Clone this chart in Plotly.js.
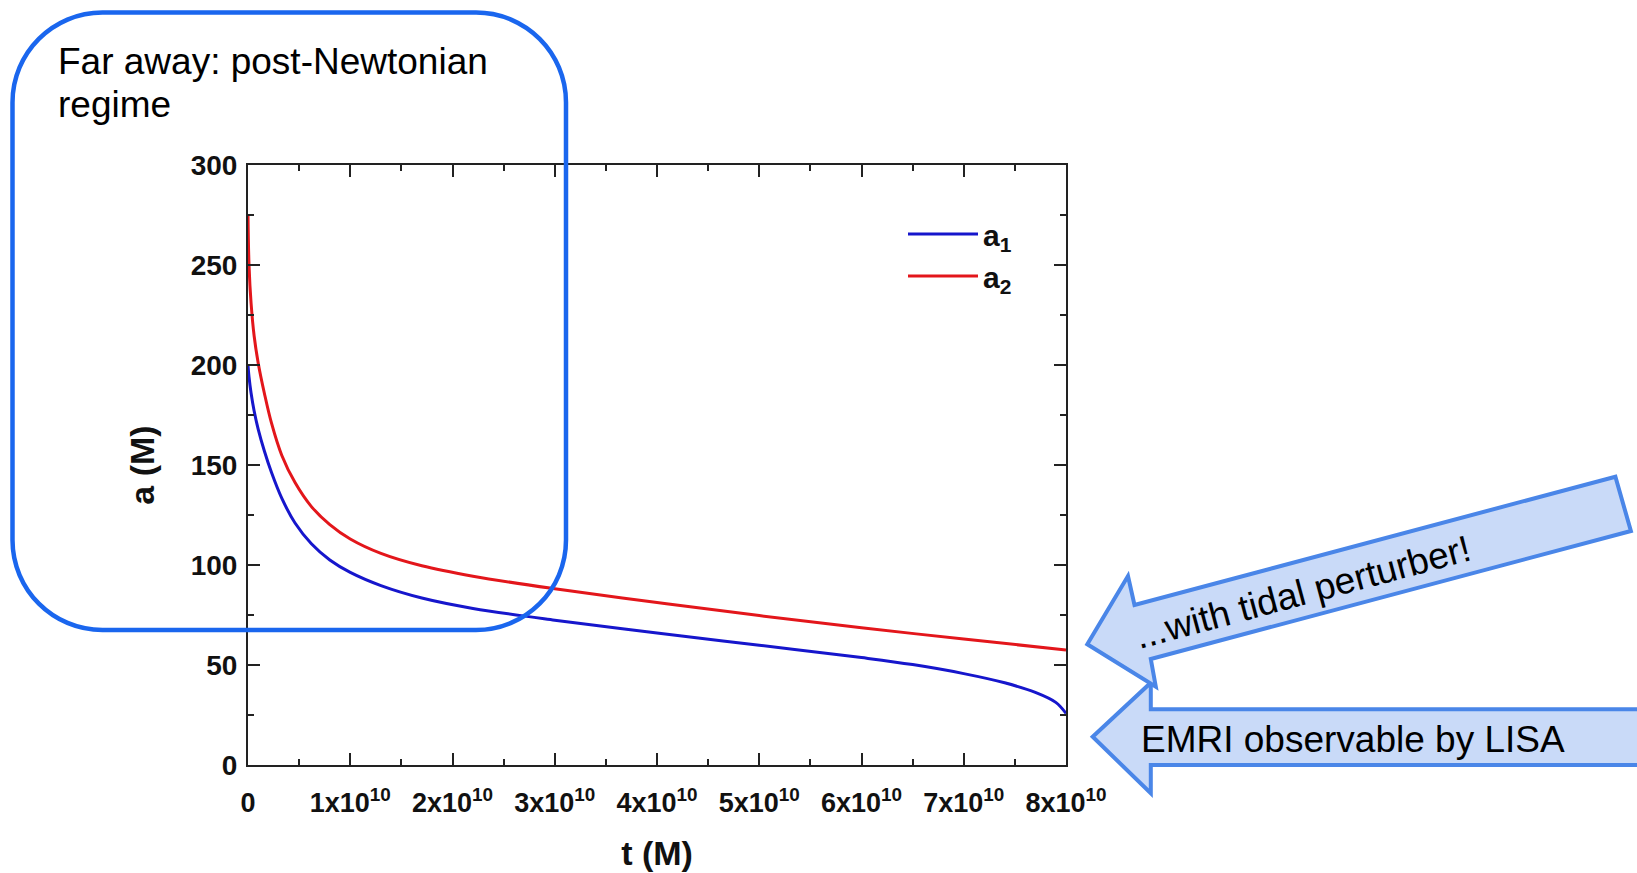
<!DOCTYPE html>
<html>
<head>
<meta charset="utf-8">
<script src="https://cdn.plot.ly/plotly-3.0.1.min.js"></script>
<style>
  html, body { margin: 0; padding: 0; background: #ffffff; }
  #chart { width: 1637px; height: 873px; }
</style>
</head>
<body>
<div id="chart"></div>
<script>
// ---- data (t in units of M, a in units of M) ----
const t_a1 = [0, 0.01e10, 0.03e10, 0.06e10, 0.1e10, 0.16e10, 0.23e10, 0.33e10, 0.46e10, 0.62e10, 0.8e10, 1.0e10, 1.3e10, 1.7e10, 2.2e10, 3.0e10, 4.0e10, 5.0e10, 6.0e10, 6.5e10, 7.0e10, 7.4e10, 7.7e10, 7.9e10, 8.0e10];
const a1   = [200, 194, 186, 177, 167.8, 157.0, 146.2, 133.4, 121.0, 110.6, 102.5, 96.3, 89.7, 83.5, 78.3, 72.4, 66.0, 59.9, 53.7, 50.2, 45.7, 41.1, 36.3, 31.3, 25.8];
const t_a2 = [0, 0.01e10, 0.03e10, 0.06e10, 0.1e10, 0.16e10, 0.23e10, 0.33e10, 0.46e10, 0.62e10, 0.8e10, 1.0e10, 1.3e10, 1.7e10, 2.2e10, 3.0e10, 4.0e10, 5.0e10, 6.0e10, 7.0e10, 8.0e10];
const a2   = [275, 250, 231, 214.5, 200.9, 185.9, 170.9, 154.9, 141.2, 129.2, 120.2, 113.0, 105.8, 99.6, 94.4, 88.1, 81.2, 74.7, 68.6, 63.0, 57.5];

const xTickVals = [0, 1e10, 2e10, 3e10, 4e10, 5e10, 6e10, 7e10, 8e10];
const xTickText = ['0', '1x10<sup>10</sup>', '2x10<sup>10</sup>', '3x10<sup>10</sup>', '4x10<sup>10</sup>',
                   '5x10<sup>10</sup>', '6x10<sup>10</sup>', '7x10<sup>10</sup>', '8x10<sup>10</sup>'];
const yTickVals = [0, 50, 100, 150, 200, 250, 300];
const seriesNames = ['<b>a<sub>1</sub></b>', '<b>a<sub>2</sub></b>'];

const noteFar = ['Far away: post-Newtonian', 'regime'];
const noteTidal = '...with tidal perturber!';
const noteLisa = 'EMRI observable by LISA';

// ---- layout geometry (pixels) ----
const W = 1637, H = 873;
const M = { l: 248, r: 571, t: 165, b: 108 };
const PW = W - M.l - M.r, PH = H - M.t - M.b;
const px = x => (x - M.l) / PW;
const py = y => (H - M.b - y) / PH;
const pathFrom = pts => 'M ' + pts.map(p => px(p[0]).toFixed(5) + ',' + py(p[1]).toFixed(5)).join(' L ') + ' Z';

function roundedRect(x1, y1, x2, y2, r) {
  const k = 0.5523 * r;
  const P = (x, y) => px(x).toFixed(5) + ',' + py(y).toFixed(5);
  return 'M ' + P(x1 + r, y1) +
    ' L ' + P(x2 - r, y1) +
    ' C ' + P(x2 - r + k, y1) + ' ' + P(x2, y1 + r - k) + ' ' + P(x2, y1 + r) +
    ' L ' + P(x2, y2 - r) +
    ' C ' + P(x2, y2 - r + k) + ' ' + P(x2 - r + k, y2) + ' ' + P(x2 - r, y2) +
    ' L ' + P(x1 + r, y2) +
    ' C ' + P(x1 + r - k, y2) + ' ' + P(x1, y2 - r + k) + ' ' + P(x1, y2 - r) +
    ' L ' + P(x1, y1 + r) +
    ' C ' + P(x1, y1 + r - k) + ' ' + P(x1 + r - k, y1) + ' ' + P(x1 + r, y1) + ' Z';
}

const arrowTop = [[1087.3, 644.3], [1128, 576], [1134.5, 605], [1615.4, 476.7], [1630.9, 531], [1150.8, 659], [1155.8, 686.7]];
const arrowBottom = [[1092.7, 736.7], [1150.8, 682.7], [1150.8, 709.3], [1650, 709.3], [1650, 765], [1150.8, 765], [1150.8, 793.3]];

const FONT = 'Liberation Sans, Arial, Helvetica, sans-serif';

const traces = [
  { x: t_a1, y: a1, name: seriesNames[0], type: 'scatter', mode: 'lines',
    line: { color: '#1616cc', width: 3, shape: 'spline', smoothing: 1 } },
  { x: t_a2, y: a2, name: seriesNames[1], type: 'scatter', mode: 'lines',
    line: { color: '#e3161b', width: 3, shape: 'spline', smoothing: 1 } }
];

const axisCommon = {
  showgrid: false, zeroline: false, showline: true, linecolor: '#222', linewidth: 2,
  mirror: 'ticks', ticks: 'inside', ticklen: 12, tickwidth: 2, tickcolor: '#222'
};

const layout = {
  width: W, height: H,
  margin: M,
  paper_bgcolor: '#ffffff', plot_bgcolor: '#ffffff',
  showlegend: true,
  legend: {
    x: px(903), y: py(208), xanchor: 'left', yanchor: 'top',
    bgcolor: 'rgba(0,0,0,0)', borderwidth: 0,
    font: { family: FONT, size: 30, color: '#111' },
    itemwidth: 70, tracegroupgap: 0
  },
  xaxis: Object.assign({}, axisCommon, {
    range: [0, 8e10], tickmode: 'array', tickvals: xTickVals, ticktext: xTickText,
    tickfont: { family: FONT, size: 27, color: '#111', weight: 'bold' },
    ticklabelstandoff: 13,
    minor: { dtick: 0.5e10, ticks: 'inside', ticklen: 6, tickwidth: 2, tickcolor: '#222' },
    title: { text: 't (M)', font: { family: FONT, size: 34, color: '#111', weight: 'bold' }, standoff: 24 }
  }),
  yaxis: Object.assign({}, axisCommon, {
    range: [0, 300], tickmode: 'array', tickvals: yTickVals,
    tickfont: { family: FONT, size: 28, color: '#111', weight: 'bold' },
    ticklabelstandoff: 3,
    minor: { dtick: 25, ticks: 'inside', ticklen: 6, tickwidth: 2, tickcolor: '#222' },
    title: { text: 'a (M)', font: { family: FONT, size: 34, color: '#111', weight: 'bold' }, standoff: 26 }
  }),
  shapes: [
    { type: 'path', xref: 'paper', yref: 'paper', path: pathFrom(arrowBottom),
      fillcolor: '#c9daf8', line: { color: '#4a86e8', width: 4 }, layer: 'above' },
    { type: 'path', xref: 'paper', yref: 'paper', path: pathFrom(arrowTop),
      fillcolor: '#c9daf8', line: { color: '#4a86e8', width: 4 }, layer: 'above' },
    { type: 'path', xref: 'paper', yref: 'paper', path: roundedRect(12.5, 12.5, 566, 630, 90),
      fillcolor: 'rgba(0,0,0,0)', line: { color: '#1a66ee', width: 4.5 }, layer: 'above' }
  ],
  annotations: [
    { text: noteFar[0], xref: 'paper', yref: 'paper', x: px(56), y: py(61), xanchor: 'left', yanchor: 'middle',
      showarrow: false, font: { family: FONT, size: 37, color: '#000' } },
    { text: noteFar[1], xref: 'paper', yref: 'paper', x: px(56), y: py(104.5), xanchor: 'left', yanchor: 'middle',
      showarrow: false, font: { family: FONT, size: 37, color: '#000' } },
    { text: noteTidal, xref: 'paper', yref: 'paper', x: px(1302), y: py(592), xanchor: 'center', yanchor: 'middle',
      textangle: -15, showarrow: false, font: { family: FONT, size: 37, color: '#000' } },
    { text: noteLisa, xref: 'paper', yref: 'paper', x: px(1139), y: py(739.5), xanchor: 'left', yanchor: 'middle',
      showarrow: false, font: { family: FONT, size: 37, color: '#000' } }
  ]
};

Plotly.newPlot('chart', traces, layout, { displayModeBar: false, staticPlot: true });
</script>
</body>
</html>
